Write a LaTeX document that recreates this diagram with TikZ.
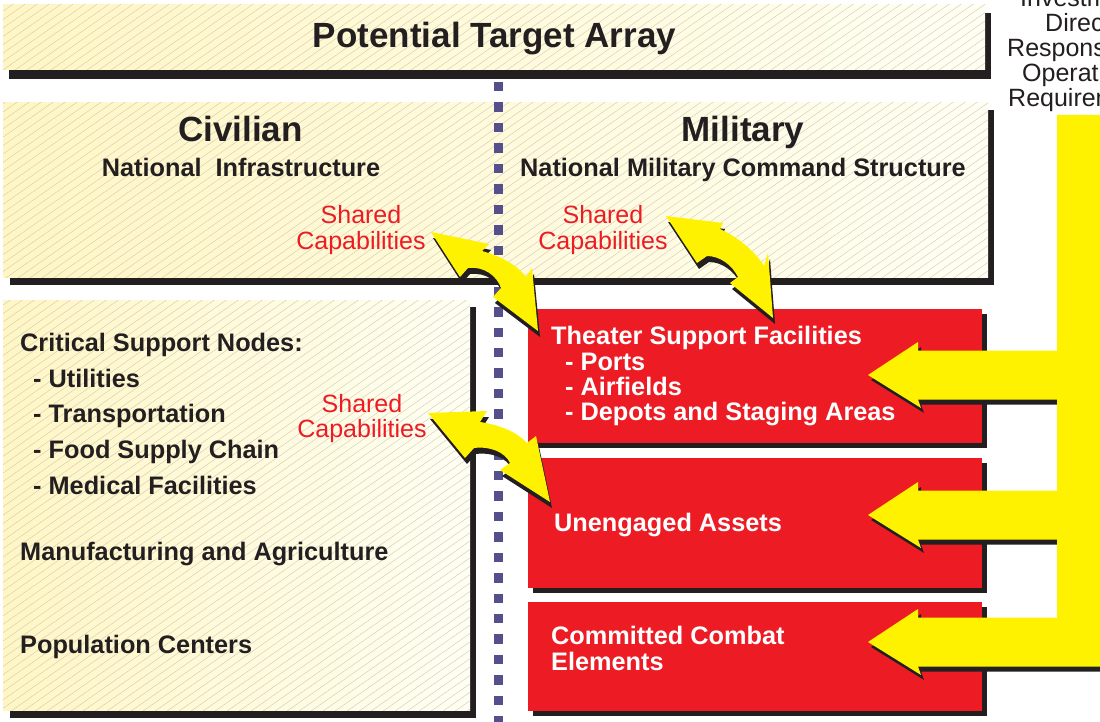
\documentclass[tikz,border=0pt]{standalone}
\usepackage{fontspec}
\setmainfont{Liberation Sans}
\definecolor{ink}{RGB}{35,31,32}
\definecolor{myred}{RGB}{237,28,36}
\definecolor{myyellow}{RGB}{255,242,0}
\definecolor{paleL}{RGB}{255,246,196}
\definecolor{paleR}{RGB}{255,254,242}
\definecolor{hatchc}{RGB}{205,202,184}
\definecolor{dotc}{RGB}{85,80,140}
\begin{document}
\begin{tikzpicture}[x=1pt,y=-1pt,
  shadowc/.style={fill=ink},
  panel/.style={left color=paleL, right color=paleR, draw=none},
  hatchline/.style={draw=hatchc, line width=0.4pt},
  redbox/.style={fill=myred},
  dotsq/.style={fill=dotc},
  big/.style={font=\fontsize{35}{40}\selectfont\bfseries, text=ink, inner sep=0pt, anchor=base},
  sub/.style={font=\fontsize{25.3}{30}\selectfont\bfseries, text=ink, inner sep=0pt, anchor=base},
  captxt/.style={font=\fontsize{25}{30}\selectfont, text=myred, inner sep=0pt, anchor=base},
  lst/.style={font=\fontsize{25.3}{30}\selectfont\bfseries, text=ink, inner sep=0pt, anchor=base west},
  wht/.style={lst, text=white},
  side/.style={font=\fontsize{25}{30}\selectfont, text=ink, inner sep=0pt, anchor=base west},
  yarrow/.style={fill=myyellow},
  yshadow/.style={fill=ink, shift={(3,5)}},
  cshadow/.style={fill=ink, shift={(2,6)}},
]
\useasboundingbox (0,0) rectangle (1100,722);
\clip (0,0) rectangle (1100,722);
\fill[white] (0,0) rectangle (1100,722);

% ---------- top panel ----------
\fill[shadowc] (9,13) rectangle (991,79);
\fill[panel] (3,5) rectangle (985,70);
\begin{scope}
  \clip (3,5) rectangle (985,70);
  \foreach \a in {-1060,-1048,...,1000} \draw[hatchline] (\a,730) -- ++(1043,-730);
\end{scope}

% ---------- civilian / military panel ----------
\fill[shadowc] (10,110) rectangle (994,285);
\fill[panel] (3,103) rectangle (988,277);
\begin{scope}
  \clip (3,103) rectangle (988,277);
  \foreach \a in {-1060,-1048,...,1000} \draw[hatchline] (\a,730) -- ++(1043,-730);
\end{scope}

% ---------- critical support panel ----------
\fill[shadowc] (10,307) rectangle (476,718);
\fill[panel] (3,300) rectangle (470,710);
\begin{scope}
  \clip (3,300) rectangle (470,710);
  \foreach \a in {-1060,-1048,...,1000} \draw[hatchline] (\a,730) -- ++(1043,-730);
\end{scope}

% ---------- dotted divider ----------
\foreach \k in {0,...,31}
  \fill[dotsq] (493.5,{82+20.46*\k}) rectangle ++(9.5,9.5);

% ---------- red boxes ----------
\fill[shadowc] (533,314) rectangle (987,448);
\fill[redbox] (528,309) rectangle (982,443);
\fill[shadowc] (533,463) rectangle (987,593);
\fill[redbox] (528,458) rectangle (982,588);
\fill[shadowc] (533,607) rectangle (987,716);
\fill[redbox] (528,602) rectangle (982,711);

% ---------- texts ----------
\node[big] (title) at (494.5,48) {Potential Target Array};
\node[big] (civ) at (240.5,142) {Civilian};
\node[big] (mil) at (743,142) {Military};
\node[sub] (natinf) at (241,177) {National\ \ Infrastructure};
\node[sub] (natmil) at (743,177) {National Military Command Structure};

\node[captxt] (sh1) at (361,224) {Shared};
\node[captxt] (ca1) at (361,249) {Capabilities};
\node[captxt] (sh2) at (603,224) {Shared};
\node[captxt] (ca2) at (603,249) {Capabilities};
\node[captxt] (sh3) at (362,412) {Shared};
\node[captxt] (ca3) at (362,437) {Capabilities};

\node[lst] (csn) at (20,351) {Critical Support Nodes:};
\node[lst] (util) at (33,387) {- Utilities};
\node[lst] (trans) at (33,422) {- Transportation};
\node[lst] (food) at (33,458) {- Food Supply Chain};
\node[lst] (med) at (33,494) {- Medical Facilities};
\node[lst] (manu) at (20,560) {Manufacturing and Agriculture};
\node[lst] (pop) at (20,653) {Population Centers};

\node[wht] (tsf) at (551,344) {Theater Support Facilities};
\node[wht] (ports) at (565,370) {- Ports};
\node[wht] (air) at (565,395) {- Airfields};
\node[wht] (dep) at (565,420) {- Depots and Staging Areas};
\node[wht] (una) at (554,531) {Unengaged Assets};
\node[wht] (cce1) at (551,644) {Committed Combat};
\node[wht] (cce2) at (551,670) {Elements};

% ---------- right yellow arrows ----------
\def\rightarrows{(1057,115) -- (1110,115) -- (1110,666.5) -- (918,666.5) -- (921,675) -- (868,642) -- (918,609) -- (918,617.5) -- (1057,617.5) -- (1057,539.5) -- (918,539.5) -- (921,548) -- (868,515) -- (918,482) -- (918,490.5) -- (1057,490.5) -- (1057,399.5) -- (918,399.5) -- (921,408) -- (868,375) -- (918,342) -- (918,350.5) -- (1057,350.5) -- cycle}
\fill[yshadow] \rightarrows;
\fill[yarrow] \rightarrows;

% ---------- curved double arrows ----------
\def\arrowA{(431,232) -- (489,244) -- (482,251) .. controls (503,257) and (518,266) .. (526,277) -- (532,268) -- (538,331) -- (493,297) -- (501,288) .. controls (497,276) and (484,266) .. (468,268) -- (460,277) -- cycle}
\def\arrowB{(666,216) -- (723,223) -- (720,229) .. controls (740,238) and (757,254) .. (764,266) -- (768,253) -- (773,318) -- (730,283) -- (738,277) .. controls (732,265) and (720,256) .. (707,256) -- (697,263) -- cycle}
\def\arrowC{(428,413) -- (487,411) -- (480,422) .. controls (500,425) and (517,432) .. (527,443) -- (536,436) -- (550,502) -- (500,470) -- (510,463) .. controls (505,452) and (490,446) .. (474,448) -- (465,458) -- cycle}
\fill[cshadow] \arrowA;
\fill[yarrow] \arrowA;
\fill[cshadow] \arrowB;
\fill[yarrow] \arrowB;
\fill[cshadow] \arrowC;
\fill[yarrow] \arrowC;

% ---------- right-hand text (cut by page edge) ----------
\node[side] (t1) at (1020,7) {Investment};
\node[side] (t2) at (1045,32) {Direct};
\node[side] (t3) at (1007,57) {Response};
\node[side] (t4) at (1022,82) {Operational};
\node[side] (t5) at (1008,107) {Requirements};
\end{tikzpicture}
\end{document}
